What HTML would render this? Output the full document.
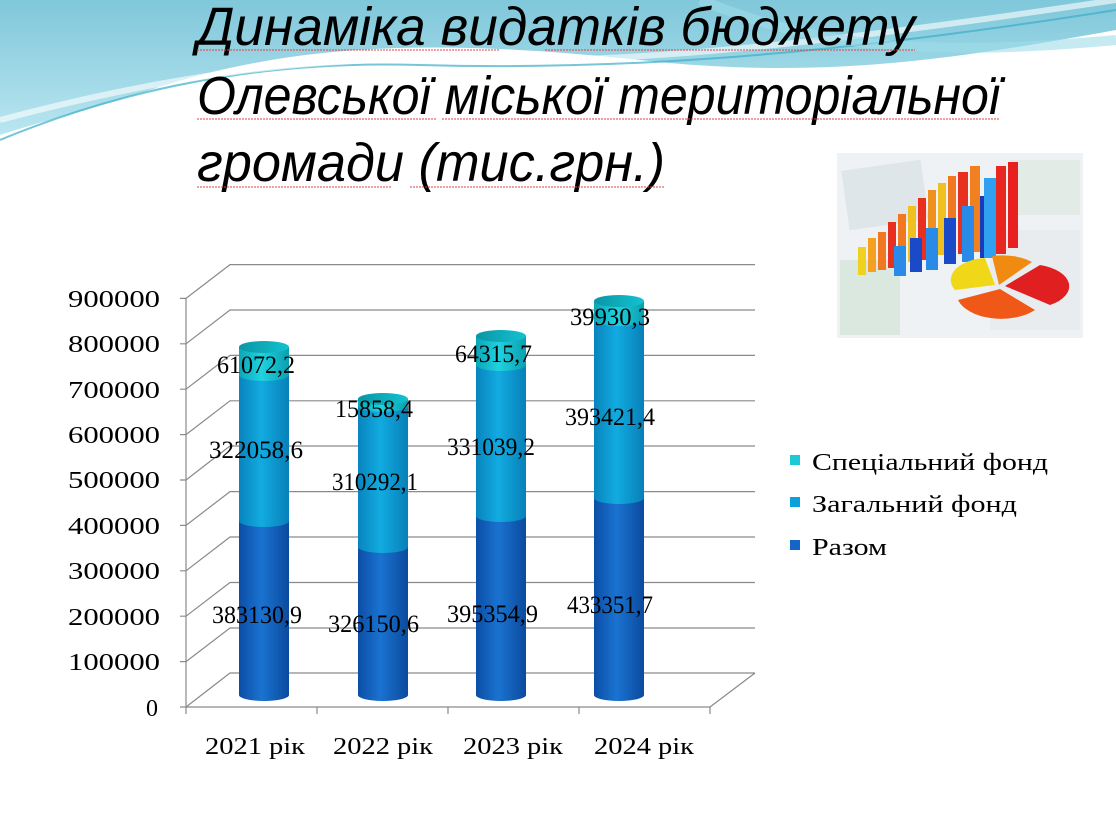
<!DOCTYPE html>
<html><head><meta charset="utf-8"><style>
html,body{margin:0;padding:0;background:#fff}
svg{display:block}
</style></head><body>
<svg width="1116" height="835" viewBox="0 0 1116 835" xmlns="http://www.w3.org/2000/svg">
<defs>
<linearGradient id="sky" x1="0" y1="0" x2="0" y2="1">
<stop offset="0" stop-color="#7fc7da"/><stop offset="1" stop-color="#b9e6f0"/></linearGradient>
<linearGradient id="gD" x1="0" x2="1"><stop offset="0" stop-color="#0c4ea6"/><stop offset="0.45" stop-color="#1a73d0"/><stop offset="1" stop-color="#0b4a9e"/></linearGradient>
<linearGradient id="gM" x1="0" x2="1"><stop offset="0" stop-color="#0884bd"/><stop offset="0.45" stop-color="#12abe0"/><stop offset="1" stop-color="#0780b8"/></linearGradient>
<linearGradient id="gT" x1="0" x2="1"><stop offset="0" stop-color="#0aa6b8"/><stop offset="0.45" stop-color="#20d2df"/><stop offset="1" stop-color="#0a9fb0"/></linearGradient>
<linearGradient id="gC" x1="0" x2="1"><stop offset="0" stop-color="#0a95a6"/><stop offset="1" stop-color="#13c2cf"/></linearGradient>
</defs>
<path d="M0 0 H1116 V30 C950 60 820 80 640 60 C450 40 300 40 150 90 C80 112 30 125 0 135 Z" fill="url(#sky)"/>
<path d="M0 140 C120 90 260 60 420 65 C600 70 800 60 1116 10" stroke="#3aaec8" stroke-width="2" fill="none" opacity="0.7"/>
<path d="M0 120 C150 80 300 55 460 60 C640 65 850 40 1116 0" stroke="#ffffff" stroke-width="6" fill="none" opacity="0.6"/>
<path d="M700 0 C800 40 900 60 1116 40" stroke="#9fdcea" stroke-width="10" fill="none" opacity="0.6"/>

<g font-family="Liberation Sans, sans-serif" font-style="italic" font-size="54" fill="#000">
<text x="197" y="45" textLength="718" lengthAdjust="spacingAndGlyphs">Динаміка видатків бюджету</text>
<text x="197" y="114" textLength="803" lengthAdjust="spacingAndGlyphs">Олевської міської територіальної</text>
<text x="197" y="181" textLength="468" lengthAdjust="spacingAndGlyphs">громади  (тис.грн.)</text>
</g>
<g stroke="#e04040" stroke-width="1" stroke-dasharray="2 1" fill="none">
<path d="M197 50H500 M545 50H915 M197 119H436 M442 119H1000 M197 187H391 M410 187H665"/>
</g>

<g>
<rect x="837" y="153" width="246" height="185" fill="#eef2f4"/>
<rect x="845" y="165" width="80" height="60" fill="#dfe6ea" transform="rotate(-8 885 195)"/>
<rect x="1010" y="160" width="70" height="55" fill="#e3ebe6"/>
<rect x="840" y="260" width="60" height="75" fill="#dbe8df"/>
<rect x="990" y="230" width="90" height="100" fill="#e8ecef"/>
<g>
<rect x="858" y="247" width="8" height="28" fill="#f0d020"/>
<rect x="868" y="238" width="8" height="34" fill="#f5a020"/>
<rect x="878" y="232" width="8" height="38" fill="#f07820"/>
<rect x="888" y="222" width="8" height="46" fill="#e83020"/>
<rect x="898" y="214" width="8" height="52" fill="#f07820"/>
<rect x="908" y="206" width="8" height="56" fill="#f0c020"/>
<rect x="918" y="198" width="8" height="62" fill="#e83020"/>
<rect x="928" y="190" width="8" height="68" fill="#f09020"/>
<rect x="938" y="183" width="8" height="72" fill="#f0c020"/>
<rect x="948" y="176" width="8" height="76" fill="#f07820"/>
<rect x="958" y="172" width="10" height="82" fill="#e83020"/>
<rect x="970" y="166" width="10" height="86" fill="#f08020"/>
<rect x="996" y="166" width="10" height="88" fill="#e82820"/>
<rect x="1008" y="162" width="10" height="86" fill="#e82020"/>
<rect x="894" y="246" width="12" height="30" fill="#2a8ae8"/>
<rect x="910" y="238" width="12" height="34" fill="#1a4ac8"/>
<rect x="926" y="228" width="12" height="42" fill="#2a8ae8"/>
<rect x="944" y="218" width="12" height="46" fill="#1a4ac8"/>
<rect x="962" y="206" width="12" height="56" fill="#2a8ae8"/>
<rect x="980" y="196" width="12" height="62" fill="#1a3ab8"/>
<rect x="984" y="178" width="12" height="80" fill="#30a0f0"/>
</g>
<path d="M999 285 L1032 262 A40 20 0 0 0 992 256 Z" fill="#f08a10"/>
<path d="M995 285 L985 258 A38 22 0 0 0 955 290 Z" fill="#f0d818"/>
<path d="M1000 289 L958 300 A45 26 0 0 0 1035 310 Z" fill="#f05818"/>
<path d="M1005 286 L1040 265 A40 22 0 0 1 1050 305 Z" fill="#e02020"/>
</g>

<g stroke="#8a8a8a" stroke-width="1.2" fill="none">
<line x1="186" y1="298" x2="186" y2="707"/>
<path d="M186 707 L230 673 L755 673 M186 707 L710 707 L755 673"/>
<path d="M186 661.6 L230 628 H755"/><path d="M186 616.2 L230 582.5 H755"/>
<path d="M186 570.8 L230 537 H755"/><path d="M186 525.4 L230 491.6 H755"/>
<path d="M186 480 L230 446 H755"/><path d="M186 434.6 L230 400.8 H755"/>
<path d="M186 389.2 L230 355.4 H755"/><path d="M186 343.8 L230 310 H755"/>
<path d="M186 298.4 L230 264.6 H755"/>
<path d="M180 707H186 M180 661.6H186 M180 616.2H186 M180 570.8H186 M180 525.4H186 M180 480H186 M180 434.6H186 M180 389.2H186 M180 343.8H186 M180 298.4H186"/>
<path d="M317 707V714 M448 707V714 M579 707V714 M710 707V714 M186 707V714"/>
</g>

<g font-family="Liberation Serif, serif" font-size="24" fill="#000">
<text x="146" y="716">0</text>
<text x="68" y="670" textLength="92" lengthAdjust="spacingAndGlyphs">100000</text>
<text x="68" y="625" textLength="92" lengthAdjust="spacingAndGlyphs">200000</text>
<text x="68" y="579" textLength="92" lengthAdjust="spacingAndGlyphs">300000</text>
<text x="68" y="534" textLength="92" lengthAdjust="spacingAndGlyphs">400000</text>
<text x="68" y="488" textLength="92" lengthAdjust="spacingAndGlyphs">500000</text>
<text x="68" y="443" textLength="92" lengthAdjust="spacingAndGlyphs">600000</text>
<text x="68" y="398" textLength="92" lengthAdjust="spacingAndGlyphs">700000</text>
<text x="68" y="352" textLength="92" lengthAdjust="spacingAndGlyphs">800000</text>
<text x="68" y="307" textLength="92" lengthAdjust="spacingAndGlyphs">900000</text>
</g>
<g font-family="Liberation Serif, serif" font-size="24" fill="#000">
<text x="205" y="754" textLength="100" lengthAdjust="spacingAndGlyphs">2021 рік</text>
<text x="333" y="754" textLength="100" lengthAdjust="spacingAndGlyphs">2022 рік</text>
<text x="463" y="754" textLength="100" lengthAdjust="spacingAndGlyphs">2023 рік</text>
<text x="594" y="754" textLength="100" lengthAdjust="spacingAndGlyphs">2024 рік</text>
</g>

<g>
<path d="M239 521 V695 A25 6 0 0 0 289 695 V521 Z" fill="url(#gD)"/>
<path d="M239 375 V521 A25 6 0 0 0 289 521 V375 Z" fill="url(#gM)"/>
<path d="M239 347 V375 A25 6 0 0 0 289 375 V347 Z" fill="url(#gT)"/>
<ellipse cx="264" cy="347" rx="25" ry="6" fill="url(#gC)"/>
<path d="M358 547 V695 A25 6 0 0 0 408 695 V547 Z" fill="url(#gD)"/>
<path d="M358 406 V547 A25 6 0 0 0 408 547 V406 Z" fill="url(#gM)"/>
<path d="M358 399 V406 A25 6 0 0 0 408 406 V399 Z" fill="url(#gT)"/>
<ellipse cx="383" cy="399" rx="25" ry="6" fill="url(#gC)"/>
<path d="M476 516 V695 A25 6 0 0 0 526 695 V516 Z" fill="url(#gD)"/>
<path d="M476 365 V516 A25 6 0 0 0 526 516 V365 Z" fill="url(#gM)"/>
<path d="M476 336 V365 A25 6 0 0 0 526 365 V336 Z" fill="url(#gT)"/>
<ellipse cx="501" cy="336" rx="25" ry="6" fill="url(#gC)"/>
<path d="M594 498 V695 A25 6 0 0 0 644 695 V498 Z" fill="url(#gD)"/>
<path d="M594 320 V498 A25 6 0 0 0 644 498 V320 Z" fill="url(#gM)"/>
<path d="M594 301 V320 A25 6 0 0 0 644 320 V301 Z" fill="url(#gT)"/>
<ellipse cx="619" cy="301" rx="25" ry="6" fill="url(#gC)"/>
</g>

<g font-family="Liberation Serif, serif" font-size="25" fill="#000">
<text x="212" y="623" textLength="90" lengthAdjust="spacingAndGlyphs">383130,9</text>
<text x="209" y="458" textLength="94" lengthAdjust="spacingAndGlyphs">322058,6</text>
<text x="217" y="373" textLength="78" lengthAdjust="spacingAndGlyphs">61072,2</text>
<text x="328" y="632" textLength="91" lengthAdjust="spacingAndGlyphs">326150,6</text>
<text x="332" y="490" textLength="86" lengthAdjust="spacingAndGlyphs">310292,1</text>
<text x="335" y="417" textLength="78" lengthAdjust="spacingAndGlyphs">15858,4</text>
<text x="447" y="622" textLength="91" lengthAdjust="spacingAndGlyphs">395354,9</text>
<text x="447" y="455" textLength="88" lengthAdjust="spacingAndGlyphs">331039,2</text>
<text x="455" y="362" textLength="77" lengthAdjust="spacingAndGlyphs">64315,7</text>
<text x="567" y="613" textLength="86" lengthAdjust="spacingAndGlyphs">433351,7</text>
<text x="565" y="425" textLength="90" lengthAdjust="spacingAndGlyphs">393421,4</text>
<text x="570" y="325" textLength="80" lengthAdjust="spacingAndGlyphs">39930,3</text>
</g>

<g font-family="Liberation Serif, serif" font-size="24" fill="#000">
<rect x="790" y="455" width="10" height="10" fill="#1ec8d6"/><text x="812" y="470" textLength="236" lengthAdjust="spacingAndGlyphs">Спеціальний фонд</text>
<rect x="790" y="497" width="10" height="10" fill="#0aa2dc"/><text x="812" y="512" textLength="205" lengthAdjust="spacingAndGlyphs">Загальний фонд</text>
<rect x="790" y="540" width="10" height="10" fill="#1565c8"/><text x="812" y="555" textLength="75" lengthAdjust="spacingAndGlyphs">Разом</text>
</g>
</svg>
</body></html>
